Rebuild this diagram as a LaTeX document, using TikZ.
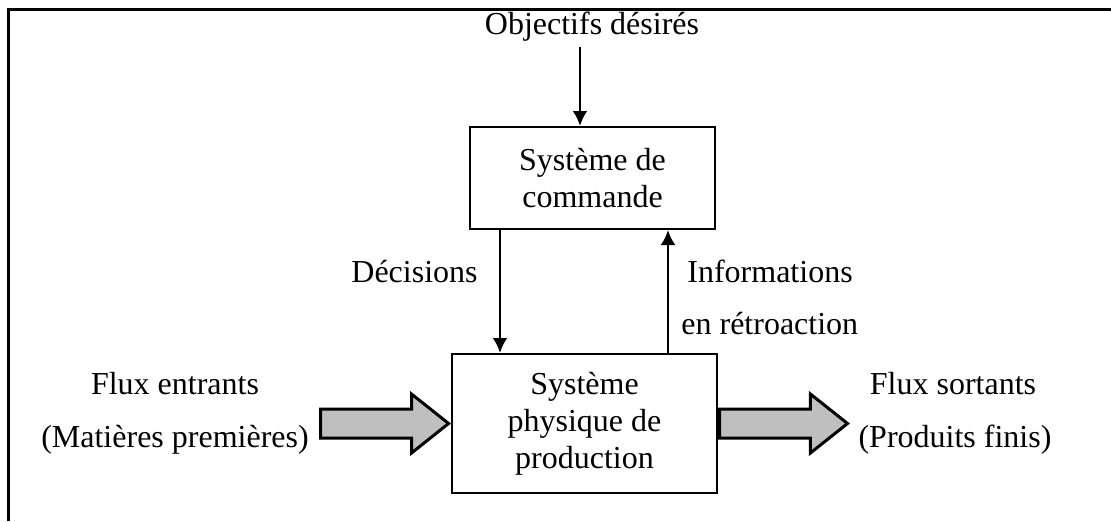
\documentclass[tikz,border=0pt]{standalone}
\usepackage{fontspec}
\setmainfont{Liberation Serif}
\usepackage{tikz}
\usetikzlibrary{positioning}
\usetikzlibrary{arrows.meta}
\usetikzlibrary{shapes.arrows}

\begin{document}
\begin{tikzpicture}[
    x = .5pt,
    y = -.5pt,
    font = \fontsize{16}{18.5}\selectfont,
    blockf/.style = {
      rectangle,
      draw=black,
      line width=1pt,
      align=center,
      inner sep=0pt
    },
    flowf/.style = {
      single arrow,
      draw=black,
      fill=black!25,
      line width=1.5pt,
      inner xsep=0pt,
      inner ysep=6.5pt,
      single arrow head extend=7.5pt,
      single arrow tip angle=77,
      minimum height=64pt
    },
    labelf/.style = {
      inner sep=0pt
    },
    sigf/.style = {
      -{Latex[length=7.5pt,width=7.5pt]},
      line width=1.4pt
    },
    framef/.style = {
      line width=1.5pt
    }
  ]
    \useasboundingbox (0,0) rectangle (1111,521);
    \draw[framef] (8,521) |- (1111,9);

    \node[blockf, minimum width=122.5pt, minimum height=51pt] (cmd) at (592.5,178)
      {Système de\\commande};
    \node[blockf, minimum width=132.5pt, minimum height=69.5pt] (phys) at (584.5,423.5)
      {Système\\physique de\\production};

    \node[labelf, anchor=base] (goal) at (592,34) {Objectifs désirés};
    \node[labelf, anchor=base east] (dec) at (478,282) {Décisions};
    \node[labelf, anchor=base west] (info) at (687,282) {Informations};
    \node[labelf, anchor=base west] (retro) at (681,334) {en rétroaction};
    \node[labelf, anchor=base] (fin) at (175,394) {Flux entrants};
    \node[labelf, anchor=base] (mat) at (175,447) {(Matières premières)};
    \node[labelf, anchor=base] (fout) at (953,394) {Flux sortants};
    \node[labelf, anchor=base] (prod) at (955,447) {(Produits finis)};

    \node[flowf, anchor=tip] (inflow) at (phys.west) {};
    \node[flowf, anchor=tail] (outflow) at (phys.east) {};

    \coordinate (gx) at (580,47);
    \coordinate (dx) at (500,0);
    \coordinate (fx) at (668,0);

    \draw[sigf] (gx) -- (cmd.north -| gx);
    \draw[sigf] (cmd.south -| dx) -- (phys.north -| dx);
    \draw[sigf] (phys.north -| fx) -- (cmd.south -| fx);

  \end{tikzpicture}
\end{document}
